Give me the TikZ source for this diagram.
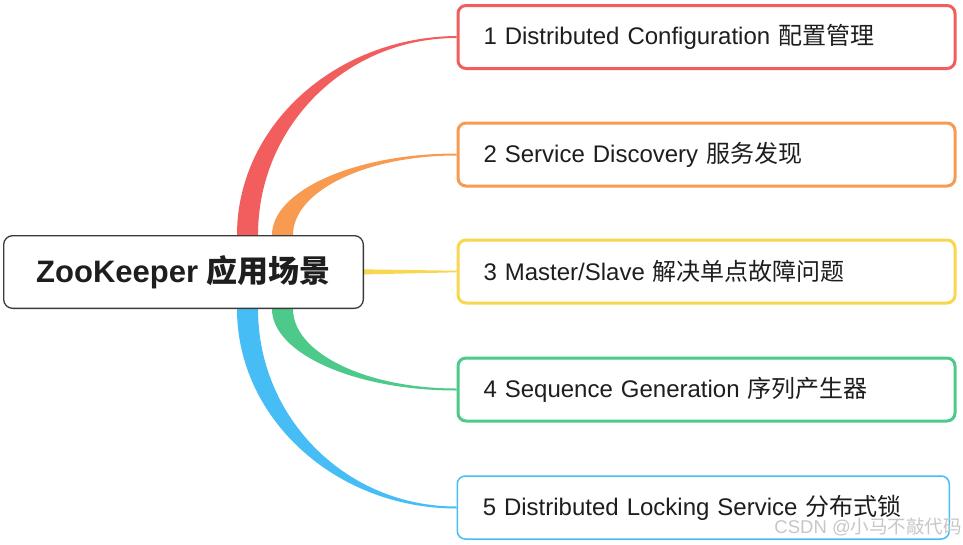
\documentclass[tikz,border=0pt]{standalone}
\usepackage{fontspec}
\setmainfont{Liberation Sans}
\newfontfamily\cjk{Noto Sans CJK SC}
\usetikzlibrary{calc}
\definecolor{cred}{HTML}{F25D5E}
\definecolor{corange}{HTML}{F89A50}
\definecolor{cyellow}{HTML}{FAD54E}
\definecolor{cgreen}{HTML}{4DC98A}
\definecolor{cblue}{HTML}{47BDF6}
\definecolor{cdark}{HTML}{3A3A3A}
\definecolor{ctext}{HTML}{1E1E1E}
\begin{document}
\begin{tikzpicture}[x=1pt,y=-1pt,
  leaf/.style={draw, fill=white, rounded corners=8pt, line width=3pt,
    minimum height=63pt, minimum width=497pt, inner xsep=25.5pt,
    text width=446pt, align=left, anchor=west, text=ctext,
    font=\fontsize{24}{28}\selectfont},
  root/.style={draw=cdark, fill=white, rounded corners=9pt, line width=1.3pt,
    minimum height=72.7pt, minimum width=359.7pt, inner sep=0pt, text=ctext,
    font=\fontsize{31}{36}\selectfont\bfseries},
  wmark/.style={anchor=east, text=black!22, inner sep=0pt,
    font=\fontsize{18.5}{20}\selectfont}]
\useasboundingbox (0,0) rectangle (963,544);

\path (183.5,272) coordinate (cc);
\path (456.5,37) coordinate (p1);
\path (456.5,154.5) coordinate (p2);
\path (456.5,271.5) coordinate (p3);
\path (456.5,389.5) coordinate (p4);
\path (456.5,507.5) coordinate (p5);

% branches (tapered)
\fill[cred] (237,250) -- (237,235) .. controls (237,126) and (335,37) .. ($(p1)+(0,-1)$)
  -- ($(p1)+(0,1)$) .. controls (346,38) and (258,126) .. (258,235) -- (258,250) -- cycle;
\fill[corange] (272,250) -- (272,235) .. controls (272,191) and (354,153.5) .. ($(p2)+(0,-1)$)
  -- ($(p2)+(0,1)$) .. controls (366,155.5) and (293,191) .. (293,235) -- (293,250) -- cycle;
\fill[cyellow] (340,269) -- ($(p3)+(0,-0.8)$) -- ($(p3)+(0,0.8)$) -- (340,275) -- cycle;
\fill[cgreen] (272,294) -- (272,309) .. controls (272,353) and (354,390.5) .. ($(p4)+(0,1)$)
  -- ($(p4)+(0,-1)$) .. controls (366,388.5) and (293,353) .. (293,309) -- (293,294) -- cycle;
\fill[cblue] (237,294) -- (237,309) .. controls (237,418) and (335,508.5) .. ($(p5)+(0,1)$)
  -- ($(p5)+(0,-1)$) .. controls (346,506.5) and (258,418) .. (258,309) -- (258,294) -- cycle;

\node[root] (c) at (cc) {ZooKeeper {\cjk 应用场景}};
\node[leaf, draw=cred] (b1) at (p1) {1 Distributed Configuration {\cjk 配置管理}};
\node[leaf, draw=corange] (b2) at (p2) {2 Service Discovery {\cjk 服务发现}};
\node[leaf, draw=cyellow] (b3) at (p3) {3 Master/Slave {\cjk 解决单点故障问题}};
\node[leaf, draw=cgreen] (b4) at (p4) {4 Sequence Generation {\cjk 序列产生器}};
\node[leaf, draw=cblue, line width=1.5pt, minimum width=492pt, text width=441pt] (b5) at (p5)
  {5 Distributed Locking Service {\cjk 分布式锁}};
\node[wmark] (wm) at (962,527) {CSDN @{\cjk 小马不敲代码}};
\end{tikzpicture}
\end{document}
